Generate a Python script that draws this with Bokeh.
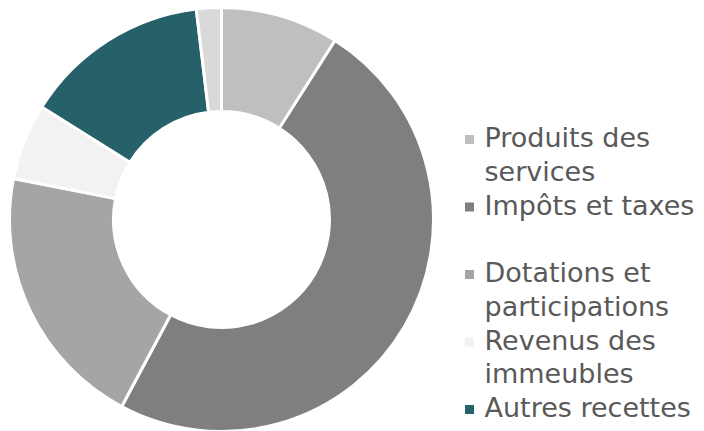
import numpy as np
from bokeh.plotting import figure
from bokeh.models import Range1d, ColumnDataSource
from bokeh.core.properties import value
from bokeh.embed import file_html
from bokeh.resources import INLINE

# Data (shares in %)
categories = ["Produits des\nservices", "Impôts et taxes\n", "Dotations et\nparticipations",
              "Revenus des\nimmeubles", "Autres recettes", "Divers"]
shares = [9.0, 48.8, 20.3, 5.8, 14.2, 1.9]
colors = ["#bfbfbf", "#7f7f7f", "#a5a5a5", "#f2f2f2", "#266169", "#d9d9d9"]
legend_count = 5  # only the first five appear in the legend

W, H = 704, 431
p = figure(width=W, height=H, output_backend="svg", toolbar_location=None,
           x_range=Range1d(0, W), y_range=Range1d(0, H),
           x_axis_type=None, y_axis_type=None, min_border=0)
p.grid.visible = False
p.outline_line_color = None
p.background_fill_color = "white"
p.border_fill_color = "white"

vals = np.array(shares, dtype=float)
frac = vals / vals.sum()
cum = np.concatenate([[0.0], np.cumsum(frac)])
src = ColumnDataSource(dict(
    start=np.pi / 2 - cum[:-1] * 2 * np.pi,
    end=np.pi / 2 - cum[1:] * 2 * np.pi,
    color=colors,
))
cx, cy = 221, H - 219
p.annular_wedge(x=cx, y=cy, inner_radius=108, outer_radius=212,
                start_angle="start", end_angle="end", direction="clock",
                fill_color="color", line_color="white", line_width=3, source=src)

# Legend drawn as glyphs
mx, tx = 469, 484
first_base = 146
entry_step = 67.5
line_step = 33.5
sq_x, sq_y, sq_c = [], [], []
t_x, t_y, t_text = [], [], []
for i in range(legend_count):
    base = first_base + i * entry_step
    sq_x.append(mx)
    sq_y.append(H - (base - 7))
    sq_c.append(colors[i])
    for j, line in enumerate(categories[i].split("\n")):
        if line:
            t_x.append(tx)
            t_y.append(H - (base - 9 + j * line_step))
            t_text.append(line)

p.rect(x=sq_x, y=sq_y, width=9, height=9, fill_color=sq_c, line_color=None)
p.text(x=t_x, y=t_y, text=t_text, text_font=value("DejaVu Sans"),
       text_font_size="27px", text_color="#595959", text_baseline="alphabetic",
       text_align="left")

open("out.html", "w").write(file_html(p, INLINE))
